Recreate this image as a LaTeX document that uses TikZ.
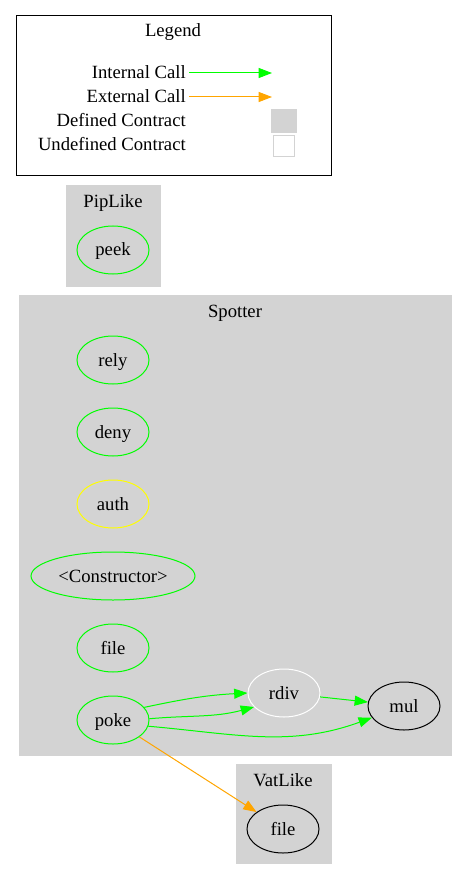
\documentclass[tikz,border=0pt]{standalone}
\usepackage{fontspec}
\setmainfont{Liberation Serif}
\usetikzlibrary{shapes.geometric,arrows.meta}
\definecolor{callgreen}{HTML}{00FF00}
\definecolor{callorange}{HTML}{FFA500}
\definecolor{clustergray}{HTML}{D3D3D3}
\definecolor{fnyellow}{HTML}{FFFF00}
\tikzset{
  fn/.style={ellipse, draw=callgreen, line width=0.75pt, minimum width=54pt, minimum height=36pt, inner sep=0pt},
  cluster/.style={fill=clustergray, draw=clustergray, line width=0.75pt},
  legtext/.style={anchor=east, inner xsep=2.25pt, inner ysep=0pt},
  intcall/.style={draw=callgreen, line width=0.75pt, -{Triangle[length=10pt,width=7.5pt]}},
  extcall/.style={draw=callorange, line width=0.75pt, -{Triangle[length=10pt,width=7.5pt]}}
}
\begin{document}
\begin{tikzpicture}[x=0.75pt, y=-0.75pt, font=\fontsize{14}{16}\selectfont,
  every node/.append style={text height=12pt, text depth=3pt}]
  \useasboundingbox (0,0) rectangle (467,880);

  \draw[black, line width=0.75pt] (16,16) rectangle (331,176);
  \node (legend) at (173,31) {Legend};
  \node[legtext] (kint) at (189,73) {Internal Call};
  \node[legtext] (kext) at (189,97) {External Call};
  \node[legtext] (kdef) at (189,121) {Defined Contract};
  \node[legtext] (kundef) at (189,145) {Undefined Contract};
  \coordinate (kintend) at (272,73);
  \coordinate (kextend) at (272,97);
  \draw[intcall] (kint) -- (kintend);
  \draw[extcall] (kext) -- (kextend);
  \node[fill=clustergray, minimum width=19.5pt, minimum height=18pt, inner sep=0pt] (kdefbox) at (284,121) {};
  \node[draw=clustergray, fill=white, line width=0.75pt, minimum width=16pt, minimum height=16pt, inner sep=0pt] (kundefbox) at (284,146) {};

  \draw[cluster] (66,186) rectangle (160,286);
  \node (piplike) at (113,202) {PipLike};
  \node[fn] (peek) at (113,250) {peek};

  \draw[cluster] (19,295) rectangle (451,755);
  \node (spotter) at (235,311) {Spotter};
  \node[fn] (rely) at (113,360) {rely};
  \node[fn] (deny) at (113,432) {deny};
  \node[fn, draw=fnyellow] (auth) at (113,504) {auth};
  \node[fn, minimum width=123pt] (ctor) at (113,576) {<Constructor>};
  \node[fn] (file) at (113,648) {file};
  \node[fn] (poke) at (113,720) {poke};
  \node[fn, draw=white] (rdiv) at (284,693) {rdiv};
  \node[fn, draw=black] (mul) at (404,706) {mul};

  \draw[cluster] (236,764) rectangle (331,863);
  \node (vatlike) at (283,780) {VatLike};
  \node[fn, draw=black] (vfile) at (283,829) {file};

  \draw[intcall] (poke.22) to[out=12, in=183] (rdiv.180);
  \draw[intcall] (poke.2) to[out=5, in=195] (rdiv.205);
  \draw[intcall] (poke.-10) to[out=-5, in=200] (mul.200);
  \draw[intcall] (rdiv) -- (mul);
  \draw[extcall] (poke) -- (vfile);
\end{tikzpicture}
\end{document}
